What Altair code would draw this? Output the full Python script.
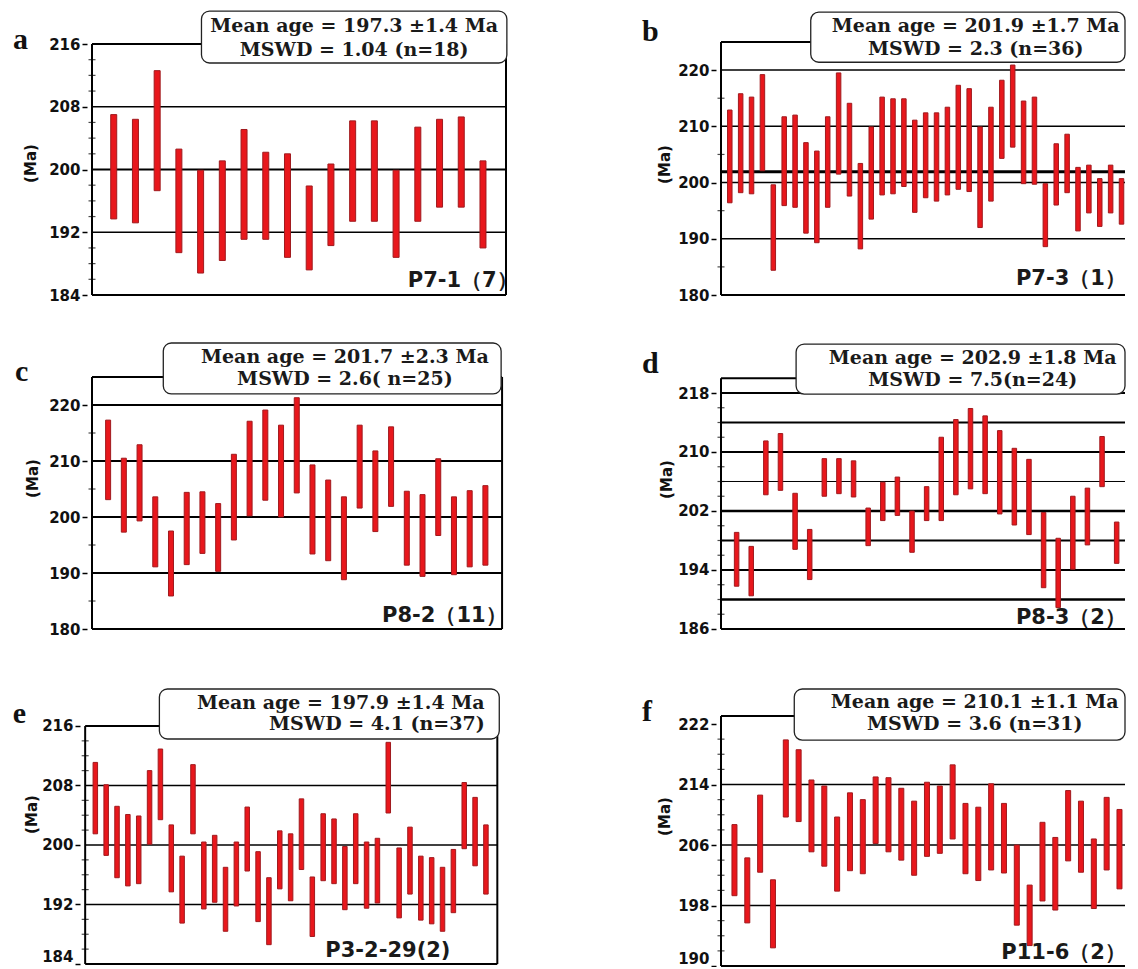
import altair as alt
import pandas as pd

# ---------------- data (Ma) ----------------
a_top = [207.0, 206.4, 212.6, 202.6, 199.9, 201.1, 205.1, 202.2, 202.0, 197.9, 200.7, 206.2, 206.2, 199.9, 205.4, 206.4, 206.7, 201.1]
a_bot = [193.7, 193.2, 197.3, 189.4, 186.8, 188.4, 191.1, 191.1, 188.8, 187.2, 190.3, 193.4, 193.4, 188.8, 193.4, 195.2, 195.2, 190.0]

b_top = [212.9, 215.8, 215.2, 219.2, 199.6, 211.7, 212.0, 207.1, 205.6, 211.7, 219.5, 214.1, 203.4, 209.9, 215.2, 214.9, 214.9, 211.1, 212.4,
         212.4, 213.4, 217.3, 216.7, 209.9, 213.4, 218.2, 220.9, 214.5, 215.2, 199.8, 206.9, 208.6, 202.7, 203.1, 200.7, 203.1, 200.7]
b_bot = [196.4, 198.2, 198.0, 202.1, 184.4, 195.9, 195.6, 191.0, 189.3, 195.6, 201.5, 197.6, 188.2, 193.5, 197.8, 198.0, 199.3, 194.7, 197.3,
         196.7, 197.8, 198.8, 198.4, 192.0, 196.7, 204.3, 206.3, 199.8, 199.7, 188.6, 196.0, 198.2, 191.4, 194.6, 192.2, 194.6, 192.6]

c_top = [217.3, 210.5, 212.9, 203.6, 197.5, 204.4, 204.5, 202.4, 211.2, 217.1, 219.1, 216.4, 221.3, 209.3, 206.6, 203.6, 216.4, 211.8, 216.1,
         204.6, 204.0, 210.4, 203.6, 204.7, 205.6]
c_bot = [203.1, 197.3, 199.3, 191.1, 185.9, 191.5, 193.5, 190.3, 195.9, 200.2, 203.0, 200.0, 204.3, 193.4, 192.2, 188.8, 201.6, 197.4, 201.9,
         191.4, 189.4, 196.7, 189.7, 191.1, 191.4]

d_top = [199.1, 197.2, 211.5, 212.5, 204.4, 199.5, 209.1, 209.1, 208.8, 202.4, 205.9, 206.6, 202.0, 205.3, 212.0, 214.4, 215.9, 214.9, 212.9,
         210.5, 209.0, 201.8, 198.3, 204.0, 205.1, 212.1, 200.5]
d_bot = [191.8, 190.5, 204.2, 204.8, 196.8, 192.7, 204.0, 204.35, 203.9, 197.3, 200.7, 201.4, 196.4, 200.7, 200.7, 204.2, 205.0, 204.35, 201.6,
         200.1, 198.8, 191.6, 188.9, 194.1, 197.4, 205.3, 194.9]

e_top = [211.1, 208.1, 205.2, 204.1, 203.9, 210.0, 212.9, 202.7, 198.5, 210.8, 200.4, 201.3, 197.0, 200.4, 205.1, 199.1, 195.6, 201.9, 201.5,
         206.2, 195.7, 204.2, 203.5, 199.8, 204.2, 200.4, 200.9, 213.8, 199.6, 202.4, 198.5, 198.3, 197.0, 199.4, 208.4, 206.4, 202.7]
e_bot = [201.5, 198.6, 195.6, 194.5, 194.8, 200.1, 203.4, 193.7, 189.5, 201.5, 191.4, 192.3, 188.4, 191.8, 196.5, 189.7, 186.6, 194.1, 192.5,
         196.7, 187.7, 195.2, 194.8, 191.3, 194.8, 191.5, 192.2, 204.3, 190.2, 193.4, 189.9, 189.4, 188.4, 190.9, 199.5, 197.2, 193.4]

f_top = [208.7, 204.3, 212.6, 201.4, 219.9, 218.6, 214.6, 213.8, 209.7, 212.9, 212.0, 215.0, 214.9, 213.5, 211.8, 214.3, 213.8, 216.6, 211.5,
         211.0, 214.1, 211.5, 206.0, 200.7, 209.0, 207.0, 213.2, 211.8, 206.8, 212.3, 210.7]
f_bot = [199.3, 195.7, 202.4, 192.4, 209.7, 209.1, 205.1, 203.2, 199.9, 202.6, 202.2, 206.2, 205.1, 204.0, 202.0, 204.5, 204.9, 206.8, 202.2,
         201.3, 202.7, 202.3, 195.4, 192.7, 198.6, 197.4, 203.9, 202.4, 197.6, 202.7, 200.2]

a_ticks = [184, 192, 200, 208, 216]
b_ticks = [180, 190, 200, 210, 220]
c_ticks = [180, 190, 200, 210, 220]
d_ticks = [186, 194, 202, 210, 218]
e_ticks = [184, 192, 200, 208, 216]
f_ticks = [190, 198, 206, 214, 222]

a_lines = [192, 200, 208]
b_lines = [190, 200, 201.9, 210, 220]
c_lines = [190, 200, 210, 220]
d_lines = [190, 194, 198, 202, 206, 210, 214, 218]
e_lines = [192, 200, 208]
f_lines = [198, 206, 214]

a_text = ["Mean age = 197.3 ±1.4 Ma", "MSWD = 1.04  (n=18)"]
b_text = ["Mean age = 201.9 ±1.7 Ma", "MSWD = 2.3 (n=36)"]
c_text = ["Mean age = 201.7 ±2.3 Ma", "MSWD = 2.6( n=25)"]
d_text = ["Mean age = 202.9 ±1.8 Ma", "MSWD = 7.5(n=24)"]
e_text = ["Mean age = 197.9 ±1.4 Ma", "MSWD = 4.1 (n=37)"]
f_text = ["Mean age = 210.1 ±1.1 Ma", "MSWD = 3.6 (n=31)"]

samples = ["P7-1（7）", "P7-3（1）", "P8-2（11）", "P8-3（2）", "P3-2-29(2)", "P11-6（2）"]
letters = ["a", "b", "c", "d", "e", "f"]

BAR_FILL = "#e8171c"
BAR_EDGE = "#a01a1e"


def minor_list(ticks, step):
    lo, hi = ticks[0], ticks[-1]
    out = []
    v = lo
    while v < hi:
        if v not in ticks:
            out.append(v)
        v += step
    return out


def panel(tops, bots, ticks, minor_step, lines, line_w, texts, sample, letter, g):
    xs = alt.Scale(domain=g["xdom"], nice=False, zero=False)
    ys = alt.Scale(domain=g["ydom"], nice=False, zero=False)

    yaxis = alt.Axis(values=ticks, title="(Ma)", labelFont="DejaVu Sans", labelFontWeight="bold",
                     labelFontSize=15, labelColor="#111111", tickSize=5, tickWidth=1.5, tickColor="black",
                     labelPadding=2, domain=False, grid=False, offset=g.get("offset", 0),
                     labelFlush=g.get("flush", False), labelOverlap=False,
                     titleFont="DejaVu Sans", titleFontWeight="bold", titleFontSize=15, titleColor="#111111",
                     titleAngle=270, titleAlign="center", titleBaseline="middle",
                     titleX=g["tx"], titleY=g["ty"])

    X = lambda f: alt.X(f, type="quantitative", scale=xs, axis=None)
    Y = lambda f: alt.Y(f, type="quantitative", scale=ys, axis=yaxis, title="(Ma)")

    xl, xr = g["xl"], g["xr"]
    gdf = pd.DataFrame({"v": lines, "w": line_w, "x1": xl, "x2": xr})
    grid = alt.Chart(gdf).mark_rule(color="black").encode(
        x=X("x1"), x2="x2", y=Y("v"), strokeWidth=alt.StrokeWidth("w:Q", scale=None))

    mdf = pd.DataFrame({"v": minor_list(ticks, minor_step), "x": xl})
    minor = alt.Chart(mdf).mark_tick(orient="horizontal", size=7, thickness=1.2, color="black").encode(
        x=X("x"), y=Y("v"))

    bdf = pd.DataFrame({"i": list(range(1, len(tops) + 1)), "top": tops, "bot": bots})
    bars = alt.Chart(bdf).mark_bar(size=g["bw"], color=BAR_FILL, stroke=BAR_EDGE, strokeWidth=1).encode(
        x=X("i"), y=Y("top"), y2="bot")

    hdf = pd.DataFrame({"v": [g["ybot"], g["ytop"]], "x1": xl, "x2": xr})
    hb = alt.Chart(hdf).mark_rule(color="black", strokeWidth=2).encode(x=X("x1"), x2="x2", y=Y("v"))
    vx = [xl] + ([xr] if g["right"] else [])
    vdf = pd.DataFrame({"x": vx, "y1": g["ybot"], "y2": g["ytop"]})
    vb = alt.Chart(vdf).mark_rule(color="black", strokeWidth=2).encode(x=X("x"), y=Y("y1"), y2="y2")

    bx = g["box"]
    box = alt.Chart(pd.DataFrame({"x1": [bx[0]], "x2": [bx[1]], "y1": [bx[2]], "y2": [bx[3]]})).mark_rect(
        fill="white", stroke="#222222", strokeWidth=1.3, cornerRadius=8).encode(
        x=X("x1"), x2="x2", y=Y("y1"), y2="y2")

    tdf = pd.DataFrame({"x": g["tx_box"], "y": g["ty_box"], "t": texts})
    btxt = alt.Chart(tdf).mark_text(align=g["talign"], baseline="middle", font="DejaVu Serif",
                                    fontWeight="bold", fontSize=19, color="#1a1a1a").encode(
        x=X("x"), y=Y("y"), text="t:N")

    sdf = pd.DataFrame({"x": [g["sx"]], "y": [g["sy"]], "t": [sample]})
    stxt = alt.Chart(sdf).mark_text(align="right", baseline="middle", font="DejaVu Sans",
                                    fontWeight="bold", fontSize=21, color="#1a1a1a").encode(
        x=X("x"), y=Y("y"), text="t:N")

    ldf = pd.DataFrame({"x": [g["lx"]], "y": [g["ly"]], "t": [letter]})
    ltxt = alt.Chart(ldf).mark_text(align="left", baseline="alphabetic", font="Liberation Serif",
                                    fontWeight="bold", fontSize=30, color="#111111").encode(
        x=X("x"), y=Y("y"), text="t:N")

    return alt.layer(grid, minor, bars, hb, vb, box, btxt, stxt, ltxt).properties(width=g["W"], height=g["H"])


ga = dict(xdom=[0, 19.06], xl=0, xr=19.06, ydom=[184, 216.255], ybot=184, ytop=216, W=424, H=253, right=True,
          bw=6, box=(5.04, 19.1, 213.58, 220.2), tx_box=[12.07, 12.07], ty_box=[218.25, 215.2], talign="center",
          sx=19.6, sy=185.8, lx=-3.64, ly=215.36, tx=-57, ty=121)
gb = dict(xdom=[0.193, 37.32], xl=0.193, xr=37.32, ydom=[180, 225], ybot=180, ytop=225, W=414, H=253, right=False,
          bw=4.5, box=(8.44, 37.32, 221.4, 230.3), tx_box=[23.6, 23.6], ty_box=[227.8, 223.7], talign="center",
          sx=37.4, sy=182.85, lx=-7.07, ly=225.2, tx=-52, ty=122)
gc = dict(xdom=[-0.025, 26.31], xl=-0.025, xr=26.06, ydom=[179.11, 225], ybot=180, ytop=225, W=424, H=257, right=True,
          bw=5, box=(4.51, 26.0, 221.97, 231.07), tx_box=[16.06, 16.06], ty_box=[228.5, 224.6], talign="center",
          sx=26.35, sy=182.3, lx=-4.93, ly=224.29, tx=-55, ty=101)
gd = dict(xdom=[-0.068, 27.57], xl=-0.068, xr=27.57, ydom=[185.32, 220.17], ybot=186, ytop=220, W=414, H=257, right=False,
          bw=4.5, box=(5.07, 27.57, 217.86, 224.64), tx_box=[17.15, 17.15], ty_box=[222.75, 219.8], talign="center",
          sx=27.63, sy=187.49, lx=-5.47, ly=220.71, tx=-50, ty=102)
ge = dict(xdom=[0.694, 38.85], xl=0.064, xr=38.05, ydom=[184, 217.34], ybot=184, ytop=216, W=424, H=248, right=True,
          bw=4.5, box=(6.905, 38.23, 214.25, 220.97), tx_box=[36.88, 36.88], ty_box=[219.1, 216.2], talign="right",
          sx=33.73, sy=185.75, lx=-6.6, ly=216.4, tx=-49, ty=98, offset=7, flush=True)
gf = dict(xdom=[-0.049, 31.43], xl=-0.049, xr=31.43, ydom=[190, 223.06], ybot=190, ytop=223.06, W=414, H=250, right=False,
          bw=5, box=(5.66, 31.43, 219.88, 226.63), tx_box=[19.72, 19.72], ty_box=[224.85, 221.95], talign="center",
          sx=31.5, sy=191.72, lx=-6.21, ly=222.4, tx=-52, ty=100, flush=True)

pa = panel(a_top, a_bot, a_ticks, 2, a_lines, [1.5, 2, 1.5], a_text, samples[0], letters[0], ga)
pb = panel(b_top, b_bot, b_ticks, 5, b_lines, [1.5, 1.5, 3, 1.5, 1.5], b_text, samples[1], letters[1], gb)
pc = panel(c_top, c_bot, c_ticks, 5, c_lines, [2, 2, 2, 2], c_text, samples[2], letters[2], gc)
pd_ = panel(d_top, d_bot, d_ticks, 2, d_lines, [2.5, 2, 2, 2.5, 1, 2, 2, 2], d_text, samples[3], letters[3], gd)
pe = panel(e_top, e_bot, e_ticks, 2, e_lines, [1.5, 1.5, 1.5], e_text, samples[4], letters[4], ge)
pf = panel(f_top, f_bot, f_ticks, 2, f_lines, [1.5, 1.5, 1.5], f_text, samples[5], letters[5], gf)

chart = alt.concat(pa, pb, pc, pd_, pe, pf, columns=2, spacing={"row": 82, "column": 205}, bounds="flush").properties(
    padding={"left": 12, "top": 10, "right": 0, "bottom": 0}, background="white"
).configure_view(stroke=None)

chart.save("out.html", embed_options={"renderer": "svg", "actions": False})
